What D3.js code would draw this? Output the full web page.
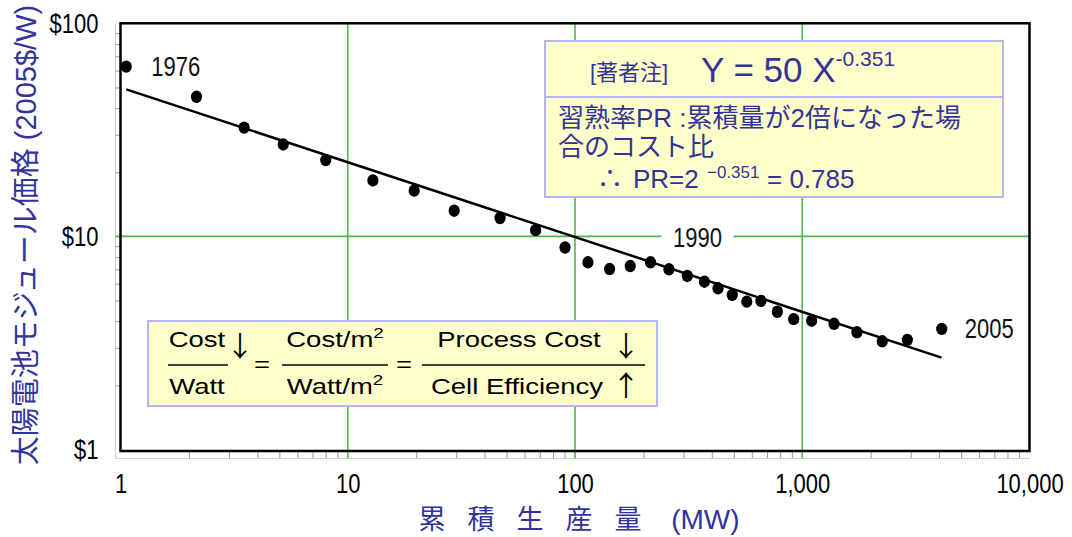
<!DOCTYPE html>
<html>
<head>
<meta charset="utf-8">
<script src="https://cdn.jsdelivr.net/npm/d3@7"></script>
<style>
  body { margin: 0; background: #fff; }
  svg { display: block; }
</style>
</head>
<body>
<svg id="chart" width="1072" height="537"></svg>
<script>
// Cumulative production (MW) and module price (2005 $/W), one point per year 1976–2005
const cumulativeMW = [1.06, 2.16, 3.5, 5.2, 8.0, 12.9, 19.6, 29.4, 46.8, 67.1,
  90.4, 114, 142, 175, 215, 259, 312, 371, 426, 492,
  570, 658, 777, 917, 1100, 1380, 1740, 2250, 2900, 4110];
const modulePrice = [62.6, 45.2, 32.4, 27.0, 22.8, 18.3, 16.4, 13.2, 12.2, 10.7,
  8.87, 7.56, 7.03, 7.26, 7.56, 7.01, 6.52, 6.13, 5.71, 5.31,
  4.94, 4.98, 4.43, 4.09, 4.02, 3.89, 3.55, 3.22, 3.27, 3.68];
const firstYear = 1976;
const labelledYears = [1976, 1990, 2005];

// Experience curve Y = 50 X^-0.351
const fitCoef = 50;
const fitExp = -0.351;
const fitSpan = [1.06, 4100];

// Axes
const xTicks = [1, 10, 100, 1000, 10000];
const xTickLabels = ["1", "10", "100", "1,000", "10,000"];
const yTicks = [1, 10, 100];
const yTickLabels = ["$1", "$10", "$100"];
const xGrid = [10, 100, 1000];
const yGrid = [10];

const svg = d3.select("#chart");
const LAT = "'Liberation Sans', Arial, 'Noto Sans CJK JP', sans-serif";
const ARROW = "'Noto Sans CJK JP', sans-serif";
const BLUE = "#333399";
const GREEN = "#4fb84f";

const plotL = 120.5, plotR = 1029.5, plotT = 23.3, plotB = 451, outerL = 115.5, outerB = 458.5;
const x = d3.scaleLog().domain([1, 10000]).range([plotL, plotR]);
const y = d3.scaleLog().domain([1, 100]).range([449.5, plotT]);

svg.append("rect").attr("width", 1072).attr("height", 537).attr("fill", "#fff");

// light outer guide lines
svg.append("path")
  .attr("d", `M${outerL},${plotT}V${outerB}H${plotR}`)
  .attr("fill", "none").attr("stroke", "#cfcfcf").attr("stroke-width", 1);

// minor ticks
const minorX = [];
[1, 10, 100, 1000].forEach(d => { for (let k = 2; k <= 9; k++) minorX.push(d * k); });
const minorY = [];
[1, 10].forEach(d => { for (let k = 2; k <= 9; k++) minorY.push(d * k); });

svg.append("g").attr("transform", `translate(0,${plotB})`)
  .call(d3.axisBottom(x).tickValues(minorX).tickSize(7).tickFormat(""))
  .call(g => g.select(".domain").remove())
  .call(g => g.selectAll("line").attr("stroke", "#999"));
svg.append("g").attr("transform", `translate(${plotL},0)`)
  .call(d3.axisLeft(y).tickValues(minorY).tickSize(5).tickFormat(""))
  .call(g => g.select(".domain").remove())
  .call(g => g.selectAll("line").attr("stroke", "#999"));

// gridlines
svg.append("g").selectAll("line").data(xGrid).join("line")
  .attr("x1", d => x(d)).attr("x2", d => x(d))
  .attr("y1", plotT).attr("y2", outerB)
  .attr("stroke", GREEN).attr("stroke-width", 1.6);
svg.append("g").selectAll("line").data(yGrid).join("line")
  .attr("x1", outerL).attr("x2", plotR)
  .attr("y1", d => y(d)).attr("y2", d => y(d))
  .attr("stroke", GREEN).attr("stroke-width", 1.6);

// plot frame
svg.append("rect")
  .attr("x", plotL).attr("y", plotT)
  .attr("width", plotR - plotL).attr("height", plotB - plotT)
  .attr("fill", "none").attr("stroke", "#000").attr("stroke-width", 2.5);

// tick labels
svg.append("g").attr("transform", `translate(0,${plotB})`)
  .call(d3.axisBottom(x).tickValues(xTicks).tickSize(0).tickFormat((d, i) => xTickLabels[i]))
  .call(g => g.select(".domain").remove())
  .call(g => g.selectAll("text")
    .attr("y", 0).attr("dy", null)
    .attr("transform", "translate(0,42) scale(1,1.22)")
    .attr("font-family", LAT).attr("font-size", 22).attr("fill", "#000"));

svg.append("g").attr("transform", `translate(${plotL},0)`)
  .call(d3.axisLeft(y).tickValues(yTicks).tickSize(0).tickFormat((d, i) => yTickLabels[i]))
  .call(g => g.select(".domain").remove())
  .call(g => g.selectAll("text")
    .attr("x", 0).attr("dy", null)
    .attr("transform", "translate(-22,9) scale(1,1.22)")
    .attr("font-family", LAT).attr("font-size", 22).attr("fill", "#000"));

// experience-curve fit line
const fitLine = d3.line().x(d => x(d)).y(d => y(fitCoef * Math.pow(d, fitExp)));
svg.append("path").datum(fitSpan)
  .attr("d", fitLine)
  .attr("fill", "none").attr("stroke", "#000").attr("stroke-width", 2.5);

// yearly points
const pts = cumulativeMW.map((v, i) => ({ mw: v, price: modulePrice[i], year: firstYear + i }));
svg.append("g").selectAll("ellipse").data(pts).join("ellipse")
  .attr("cx", d => x(d.mw)).attr("cy", d => y(d.price))
  .attr("rx", 5.6).attr("ry", 6.2).attr("fill", "#000");

// year labels
const yearOffsets = { 1976: [25, 0, "start"], 1990: [47, -25, "middle"], 2005: [23, 0, "start"] };
const yl = svg.append("g");
labelledYears.forEach(yr => {
  const p = pts[yr - firstYear];
  const [dx, dy, anchor] = yearOffsets[yr];
  const cx = x(p.mw) + dx, cy = y(p.price) + dy;
  if (yr === 1990) {
    yl.append("rect").attr("x", cx - 36).attr("y", cy - 12).attr("width", 72).attr("height", 24).attr("fill", "#fff");
  }
  yl.append("text")
    .attr("transform", `translate(${cx},${cy + 9.5}) scale(1,1.22)`)
    .attr("text-anchor", anchor)
    .attr("font-family", LAT).attr("font-size", 22).attr("fill", "#111")
    .text(yr);
});

// axis titles
const xt = svg.append("text")
  .attr("x", 579).attr("y", 529).attr("text-anchor", "middle").attr("fill", BLUE);
xt.append("tspan").attr("font-family", "'Noto Sans CJK JP', sans-serif").attr("font-size", 27)
  .attr("letter-spacing", "22px").text("累積生産量");
xt.append("tspan").attr("font-family", LAT).attr("font-size", 28).text(" (MW)");

svg.append("text")
  .attr("transform", "translate(36,235) rotate(-90)")
  .attr("text-anchor", "middle").attr("fill", BLUE)
  .attr("font-family", LAT).attr("font-size", 29)
  .text("太陽電池モジュール価格 (2005$/W)");

// note box: fitted curve and progress ratio
const BOXFILL = "#ffffcc", BOXLINE = "#b4b4f0";
const nb = svg.append("g").attr("font-family", LAT).attr("fill", BLUE);
nb.append("rect").attr("x", 545).attr("y", 41).attr("width", 458).attr("height", 156)
  .attr("fill", BOXFILL).attr("stroke", BOXLINE).attr("stroke-width", 2);
nb.append("line").attr("x1", 545).attr("x2", 1003).attr("y1", 97).attr("y2", 97)
  .attr("stroke", BOXLINE).attr("stroke-width", 2);
nb.append("text").attr("x", 590).attr("y", 80).attr("font-size", 22).text("[著者注]");
const eq = nb.append("text").attr("x", 701).attr("y", 82).attr("font-size", 35);
eq.append("tspan").text("Y = 50 X");
eq.append("tspan").attr("font-size", 21).attr("dy", -16).text("-0.351");
nb.append("text").attr("x", 558).attr("y", 127).attr("font-size", 26).text("習熟率PR :累積量が2倍になった場");
nb.append("text").attr("x", 558).attr("y", 156).attr("font-size", 26).text("合のコスト比");
const pr = nb.append("text").attr("y", 188).attr("font-size", 26);
pr.append("tspan").attr("x", 597).text("∴");
pr.append("tspan").attr("x", 633).text("PR=2");
pr.append("tspan").attr("x", 707).attr("dy", -10).attr("font-size", 17).text("−0.351");
pr.append("tspan").attr("x", 767).attr("dy", 10).text("= 0.785");

// formula box: cost per watt decomposition
const fb = svg.append("g").attr("font-family", LAT).attr("fill", "#000");
fb.append("rect").attr("x", 148).attr("y", 321).attr("width", 509).attr("height", 85)
  .attr("fill", BOXFILL).attr("stroke", BOXLINE).attr("stroke-width", 2);
function ftext(cx, base, parts, size) {
  const t = fb.append("text")
    .attr("transform", `translate(${cx},${base}) scale(1.25,1)`)
    .attr("text-anchor", "middle").attr("font-size", size || 22);
  parts.forEach(p => {
    const s = t.append("tspan").text(p.t);
    if (p.sup) s.attr("font-size", 15).attr("dy", -9);
  });
  return t;
}
function arrow(cx, base, glyph) {
  fb.append("text")
    .attr("x", cx).attr("y", base)
    .attr("text-anchor", "middle")
    .attr("font-family", ARROW).attr("font-size", 28)
    .text(glyph);
}
const numY = 346.7, denY = 394, barY = 365;
[[168, 228], [282, 388], [422, 645]].forEach(([a, b]) =>
  fb.append("line").attr("x1", a).attr("x2", b).attr("y1", barY).attr("y2", barY)
    .attr("stroke", "#000").attr("stroke-width", 1.5));
ftext(197, numY, [{ t: "Cost" }]);
ftext(197, denY, [{ t: "Watt" }]);
ftext(262, 372, [{ t: "=" }]);
ftext(335, numY, [{ t: "Cost/m" }, { t: "2", sup: true }]);
ftext(335, denY, [{ t: "Watt/m" }, { t: "2", sup: true }]);
ftext(404, 372, [{ t: "=" }]);
ftext(519, numY, [{ t: "Process Cost" }]);
ftext(517, denY, [{ t: "Cell Efficiency" }]);
arrow(240, 357, "↓");
arrow(626, 357, "↓");
arrow(626, 396, "↑");
</script>
</body>
</html>
